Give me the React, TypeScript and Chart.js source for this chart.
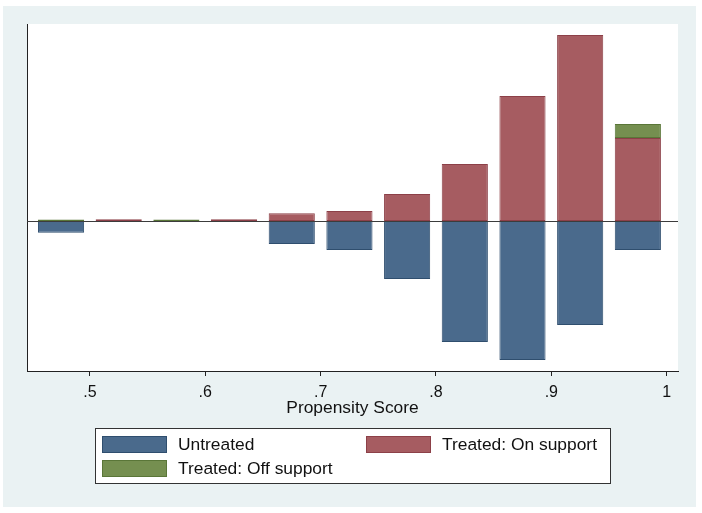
import { useEffect, useRef } from "react";
import { Chart, registerables } from "chart.js";

Chart.register(...registerables);

// ---- data ----
const BIN_CENTERS = [0.475, 0.525, 0.575, 0.625, 0.675, 0.725, 0.775, 0.825, 0.875, 0.925, 0.975];
const UNTREATED = [-11.7, null, null, null, -23, -29, -58, -121, -139, -104, -29];
const TREATED_ON = [null, 1.7, null, 1.7, 7.7, 10, 27, 57, 125, 186, 83];
const TREATED_OFF = [1.6, null, 1.5, null, null, null, null, null, null, null, 14];
const TICK_VALUES = [0.5, 0.6, 0.7, 0.8, 0.9, 1.0];
const TICK_LABELS = [".5", ".6", ".7", ".8", ".9", "1"];
const SERIES_LABELS = ["Untreated", "Treated: On support", "Treated: Off support"];
const X_TITLE = "Propensity Score";

const FONT = "'Liberation Sans', Arial, Helvetica, sans-serif";
const COLORS = {
  blue: { fill: "#4a6a8c", border: "#2f4e6e" },
  red: { fill: "#a65c61", border: "#8c4048" },
  green: { fill: "#758f50", border: "#5a7638" },
};

function toPoints(values: (number | null)[]) {
  return BIN_CENTERS.map((x, i) => ({ x, y: values[i] }));
}

const backgroundPlugin = {
  id: "stataBackground",
  beforeDraw(chart: any) {
    const { ctx, width, height, chartArea } = chart;
    ctx.save();
    ctx.fillStyle = "#ffffff";
    ctx.fillRect(0, 0, width, height);
    ctx.fillStyle = "#eaf2f3";
    ctx.fillRect(3, 6, 693, 501);
    ctx.fillStyle = "#ffffff";
    ctx.fillRect(chartArea.left, chartArea.top, chartArea.right - chartArea.left, chartArea.bottom - chartArea.top);
    ctx.restore();
  },
};

const baselinePlugin = {
  id: "zeroLine",
  afterDatasetsDraw(chart: any) {
    const { ctx, chartArea, scales } = chart;
    const y0 = Math.round(scales.y.getPixelForValue(0)) + 0.5;
    ctx.save();
    ctx.strokeStyle = "#3c3c3c";
    ctx.lineWidth = 1;
    ctx.beginPath();
    ctx.moveTo(chartArea.left, y0);
    ctx.lineTo(chartArea.right, y0);
    ctx.stroke();
    ctx.restore();
  },
};

const legendPlugin = {
  id: "stataLegend",
  afterDraw(chart: any) {
    const { ctx } = chart;
    ctx.save();
    ctx.fillStyle = "#ffffff";
    ctx.fillRect(95, 428, 516, 56);
    ctx.strokeStyle = "#333333";
    ctx.lineWidth = 1;
    ctx.strokeRect(95.5, 428.5, 515, 55);
    const slots = [
      { x: 102, y: 436 },
      { x: 366, y: 436 },
      { x: 102, y: 460 },
    ];
    chart.data.datasets.forEach((ds: any, i: number) => {
      const s = slots[i];
      ctx.fillStyle = ds.backgroundColor;
      ctx.fillRect(s.x, s.y, 65, 17);
      ctx.strokeStyle = ds.borderColor;
      ctx.strokeRect(s.x + 0.5, s.y + 0.5, 64, 16);
      ctx.fillStyle = "#111111";
      ctx.font = `17.4px ${FONT}`;
      ctx.textBaseline = "middle";
      ctx.textAlign = "left";
      ctx.fillText(ds.label, s.x + 76, s.y + 9);
    });
    ctx.restore();
  },
};

export default function App() {
  const canvasRef = useRef<HTMLCanvasElement | null>(null);

  useEffect(() => {
    document.body.style.margin = "0";
    const canvas = canvasRef.current;
    if (!canvas) return;
    const common = {
      borderWidth: 1,
      borderSkipped: false,
      barPercentage: 0.8,
      categoryPercentage: 1,
    };
    const chart = new Chart(canvas, {
      type: "bar",
      data: {
        datasets: [
          {
            label: SERIES_LABELS[0],
            data: toPoints(UNTREATED) as any,
            backgroundColor: COLORS.blue.fill,
            borderColor: COLORS.blue.border,
            ...common,
          },
          {
            label: SERIES_LABELS[1],
            data: toPoints(TREATED_ON) as any,
            backgroundColor: COLORS.red.fill,
            borderColor: COLORS.red.border,
            ...common,
          },
          {
            label: SERIES_LABELS[2],
            data: toPoints(TREATED_OFF) as any,
            backgroundColor: COLORS.green.fill,
            borderColor: COLORS.green.border,
            ...common,
          },
        ] as any,
      },
      options: {
        responsive: false,
        animation: false,
        events: [],
        layout: { padding: { left: 27, top: 24, right: 24, bottom: 94 } },
        plugins: {
          legend: { display: false },
          tooltip: { enabled: false },
          title: { display: false },
        },
        scales: {
          x: {
            type: "linear",
            stacked: true,
            min: 0.4455,
            max: 1.0098,
            offset: false,
            afterBuildTicks: (scale: any) => {
              scale.ticks = TICK_VALUES.map((v) => ({ value: v }));
            },
            afterFit: (scale: any) => {
              scale.height = 48;
            },
            grid: {
              display: true,
              offset: false,
              drawOnChartArea: false,
              drawTicks: true,
              tickLength: 5,
              color: "#222222",
              lineWidth: 1,
            },
            border: { display: true, color: "#222222", width: 1 },
            ticks: {
              autoSkip: false,
              maxRotation: 0,
              padding: 7,
              color: "#111111",
              font: { family: FONT, size: 16 },
              callback: (_v: any, i: number) => TICK_LABELS[i],
            },
            title: {
              display: true,
              text: X_TITLE,
              color: "#111111",
              font: { family: FONT, size: 17.4 },
              padding: { top: 0, bottom: 0 },
            },
          },
          y: {
            stacked: true,
            min: -150,
            max: 197,
            afterFit: (scale: any) => {
              scale.width = 0;
            },
            grid: { display: false },
            ticks: { display: false },
            border: { display: true, color: "#222222", width: 1 },
          },
        },
      } as any,
      plugins: [backgroundPlugin, baselinePlugin, legendPlugin],
    });
    return () => chart.destroy();
  }, []);

  return (
    <div style={{ position: "absolute", left: 0, top: 0, width: 702, height: 513 }}>
      <canvas ref={canvasRef} width={702} height={513} style={{ width: 702, height: 513 }} />
    </div>
  );
}
